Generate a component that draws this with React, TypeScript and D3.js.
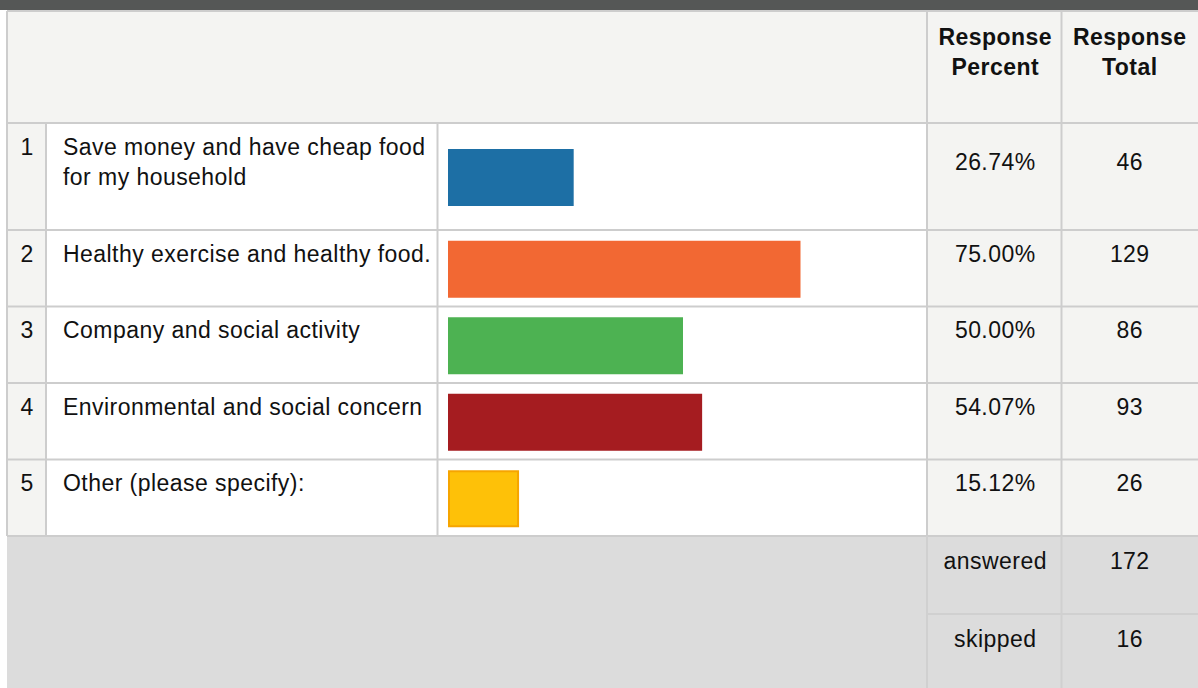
import React from "react";
import * as d3 from "d3";

const indices = ["1", "2", "3", "4", "5"];
const labels = [
  ["Save money and have cheap food", "for my household"],
  ["Healthy exercise and healthy food."],
  ["Company and social activity"],
  ["Environmental and social concern"],
  ["Other (please specify):"],
];
const percents = [26.74, 75.0, 50.0, 54.07, 15.12];
const totals = [46, 129, 86, 93, 26];
const barColors = ["#1d6fa5", "#f26833", "#4db252", "#a51c20", "#fec108"];
const barStrokes = ["none", "none", "none", "none", "#f6a500"];
const headerLines = [["Response", "Percent"], ["Response", "Total"]];
const footerLabels = ["answered", "skipped"];
const footerValues = [172, 16];

const W = 1198;
const H = 688;
const FONT = "'Liberation Sans', Arial, Helvetica, sans-serif";
const FS = 23;
const LS = 0.45;
const GRID = "#cdcdcd";

export default function App() {
  const xL = 7;
  const cIdx = 46;
  const cBar = 437.5;
  const cPct = 927;
  const cTot = 1061.5;
  const xR = W;
  const headerTop = 11;
  const headerBot = 123;

  const rowHeights = labels.map((l) => 46 + l.length * 30.5);
  const rowTops: number[] = [];
  let acc = headerBot;
  rowHeights.forEach((h) => {
    rowTops.push(acc);
    acc += h;
  });
  const tableBot = acc;
  const footerRowH = 78;

  const x = d3.scaleLinear().domain([0, 100]).range([448, 918]);

  const txt = (props: any, s: string | number) => (
    <text
      fontFamily={FONT}
      fontSize={FS}
      letterSpacing={LS}
      fill="#111"
      {...props}
    >
      {s}
    </text>
  );

  const pctCx = (cPct + cTot) / 2;
  const totCx = (cTot + xR) / 2;
  const idxCx = (xL + cIdx) / 2 + 0.5;

  return (
    <svg
      width={W}
      height={H}
      style={{ position: "absolute", left: 0, top: 0, background: "#fff" }}
    >
      {/* top dark bar */}
      <rect x={0} y={0} width={W} height={10} fill="#555756" />
      {/* header */}
      <rect x={xL} y={headerTop} width={W - xL} height={headerBot - headerTop} fill="#f4f4f2" />
      {/* body backgrounds */}
      <rect x={xL} y={headerBot} width={cIdx - xL} height={tableBot - headerBot} fill="#f4f4f2" />
      <rect x={cIdx} y={headerBot} width={cPct - cIdx} height={tableBot - headerBot} fill="#ffffff" />
      <rect x={cPct} y={headerBot} width={xR - cPct} height={tableBot - headerBot} fill="#f4f4f2" />
      {/* footer */}
      <rect x={xL} y={tableBot} width={W - xL} height={H - tableBot} fill="#dcdcdc" />

      {/* grid lines */}
      <g stroke={GRID} strokeWidth={2}>
        <line x1={xL} x2={xR} y1={headerTop} y2={headerTop} />
        <line x1={xL} x2={xR} y1={headerBot} y2={headerBot} />
        {rowTops.map((t, i) => (
          <line key={i} x1={xL} x2={xR} y1={t + rowHeights[i]} y2={t + rowHeights[i]} />
        ))}
        <line x1={xL} x2={xL} y1={headerTop} y2={tableBot} />
        <line x1={cIdx} x2={cIdx} y1={headerBot} y2={tableBot} />
        <line x1={cBar} x2={cBar} y1={headerBot} y2={tableBot} />
        <line x1={cPct} x2={cPct} y1={headerTop} y2={tableBot} />
        <line x1={cTot} x2={cTot} y1={headerTop} y2={tableBot} />
      </g>
      <g stroke="#d0d0d0" strokeWidth={2}>
        <line x1={cPct} x2={cPct} y1={tableBot} y2={H} />
        <line x1={cTot} x2={cTot} y1={tableBot} y2={H} />
        <line x1={cPct} x2={xR} y1={tableBot + footerRowH} y2={tableBot + footerRowH} />
      </g>

      {/* header text */}
      {headerLines.map((lines, j) =>
        lines.map((s, k) =>
          txt(
            {
              key: `h${j}${k}`,
              x: j === 0 ? pctCx + 1 : totCx,
              y: 45 + k * 30,
              textAnchor: "middle",
              fontWeight: "bold",
            },
            s
          )
        )
      )}

      {/* rows */}
      {labels.map((lines, i) => {
        const top = rowTops[i];
        const h = rowHeights[i];
        const by = top + 31.5;
        const valY = by + (h - 76.5) / 2;
        const barH = 57;
        const barY = top + h / 2 - barH / 2 + 1;
        const stroke = barStrokes[i];
        return (
          <g key={i}>
            {txt({ x: idxCx, y: by, textAnchor: "middle" }, indices[i])}
            {lines.map((s, k) => txt({ key: k, x: 63, y: by + k * 30.5 }, s))}
            <rect
              x={stroke === "none" ? x(0) : x(0) + 1}
              y={stroke === "none" ? barY : barY + 1}
              width={stroke === "none" ? x(percents[i]) - x(0) : x(percents[i]) - x(0) - 2}
              height={stroke === "none" ? barH : barH - 2}
              fill={barColors[i]}
              stroke={stroke}
              strokeWidth={stroke === "none" ? 0 : 2}
            />
            {txt({ x: pctCx + 1, y: valY, textAnchor: "middle" }, d3.format(".2f")(percents[i]) + "%")}
            {txt({ x: totCx, y: valY, textAnchor: "middle" }, totals[i])}
          </g>
        );
      })}

      {/* footer text */}
      {footerLabels.map((s, i) => (
        <g key={s}>
          {txt({ x: pctCx + 1, y: tableBot + 33 + i * footerRowH, textAnchor: "middle" }, s)}
          {txt({ x: totCx, y: tableBot + 33 + i * footerRowH, textAnchor: "middle" }, footerValues[i])}
        </g>
      ))}
    </svg>
  );
}
